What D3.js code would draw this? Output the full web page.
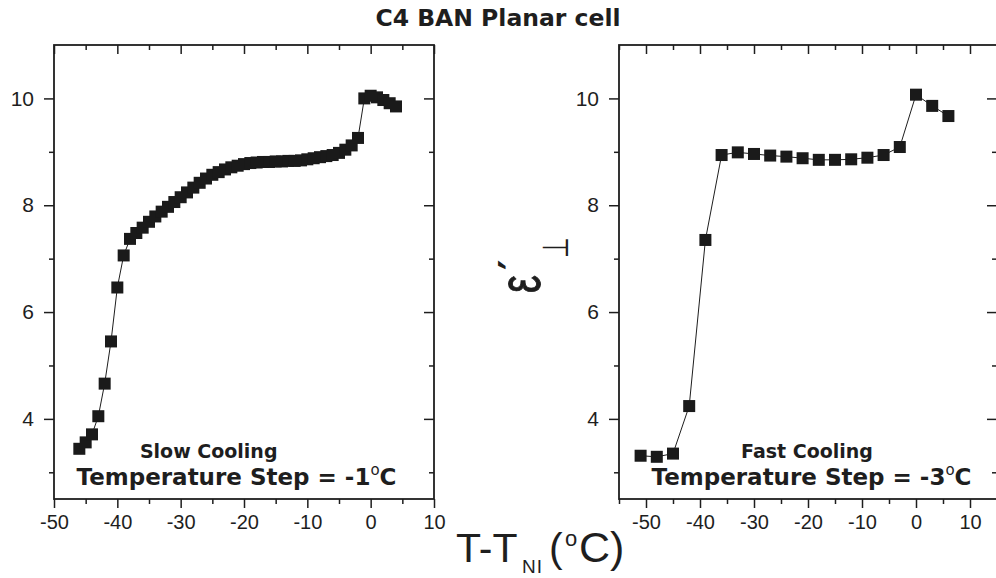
<!DOCTYPE html>
<html><head><meta charset="utf-8">
<script src="https://cdn.jsdelivr.net/npm/d3@7"></script>
<style>body{margin:0;background:#fff}svg{display:block}</style>
</head><body>
<svg id="c" width="996" height="578"></svg>
<script>
// ---------- data ----------
const slowT = [-46,-45,-44,-43,-42,-41,-40,-39,-38,-37,-36,-35,-34,-33,-32,-31,-30,-29,-28,-27,-26,-25,-24,-23,-22,-21,-20,-19,-18,-17,-16,-15,-14,-13,-12,-11,-10,-9,-8,-7,-6,-5,-4,-3,-2,-1,0,1,2,3,4];
const slowEps = [3.44,3.56,3.71,4.05,4.66,5.45,6.46,7.06,7.37,7.48,7.58,7.69,7.79,7.88,7.97,8.06,8.15,8.24,8.33,8.42,8.50,8.57,8.62,8.67,8.71,8.74,8.77,8.79,8.80,8.81,8.81,8.82,8.82,8.83,8.83,8.84,8.86,8.88,8.90,8.92,8.94,8.98,9.04,9.12,9.26,10.00,10.05,10.02,9.97,9.91,9.85];
const fastT = [-51,-48,-45,-42,-39,-36,-33,-30,-27,-24,-21,-18,-15,-12,-9,-6,-3,0,3,6];
const fastEps = [3.31,3.29,3.35,4.24,7.35,8.94,8.99,8.96,8.93,8.91,8.88,8.85,8.85,8.86,8.89,8.94,9.09,10.07,9.86,9.67];
const xMajorTicks = [-50,-40,-30,-20,-10,0,10];
const xMinorTicks = [-55,-45,-35,-25,-15,-5,5];
const yMajorTicks = [4,6,8,10];
const yMinorTicks = [3,5,7,9];
const titleText = "C4 BAN Planar cell";
const panelLabels = [
  {name:"Slow Cooling", step:"-1"},
  {name:"Fast Cooling", step:"-3"}
];

// ---------- drawing ----------
const svg = d3.select("#c");
const FONT = "'Liberation Sans', Arial, sans-serif";
const BOLD = "'DejaVu Sans', sans-serif";
const INK = "#1e1e1e";
const fmt = d => String(d);

const yDomain = [2.5, 11];
const yTop = 45, yBot = 499;

const panels = [
  {x0:54, x1:434, dom:[-50,10], T:slowT, E:slowEps, lab:panelLabels[0], nameX:208.7, stepX:236.5},
  {x0:619, x1:997, dom:[-55,15], T:fastT, E:fastEps, lab:panelLabels[1], nameX:807, stepX:811.5}
];

panels.forEach(p => {
  const x = d3.scaleLinear().domain(p.dom).range([p.x0, p.x1]);
  const y = d3.scaleLinear().domain(yDomain).range([yBot, yTop]);
  const g = svg.append("g");
  const inX = v => v >= p.dom[0] && v <= p.dom[1];

  const styleAxis = (sel) => {
    sel.select(".domain").remove();
    sel.selectAll("line").attr("stroke", INK).attr("stroke-width", 1.5);
    sel.selectAll("text").attr("font-family", FONT).attr("fill", INK);
  };
  g.append("g").attr("transform",`translate(0,${yBot})`)
    .call(d3.axisBottom(x).tickValues(xMajorTicks.filter(inX)).tickSize(9).tickPadding(7).tickFormat(fmt))
    .call(styleAxis).selectAll("text").attr("font-size", 20);
  g.append("g").attr("transform",`translate(0,${yBot})`)
    .call(d3.axisBottom(x).tickValues(xMinorTicks.filter(inX)).tickSize(5).tickFormat(""))
    .call(styleAxis);
  g.append("g").attr("transform",`translate(0,${yTop})`)
    .call(d3.axisTop(x).tickValues(xMajorTicks.filter(inX)).tickSize(-9).tickFormat(""))
    .call(styleAxis);
  g.append("g").attr("transform",`translate(0,${yTop})`)
    .call(d3.axisTop(x).tickValues(xMinorTicks.filter(inX)).tickSize(-5).tickFormat(""))
    .call(styleAxis);
  g.append("g").attr("transform",`translate(${p.x0},0)`)
    .call(d3.axisLeft(y).tickValues(yMajorTicks).tickSize(10).tickPadding(10).tickFormat(fmt))
    .call(styleAxis).selectAll("text").attr("font-size", 21);
  g.append("g").attr("transform",`translate(${p.x0},0)`)
    .call(d3.axisLeft(y).tickValues(yMinorTicks).tickSize(5).tickFormat(""))
    .call(styleAxis);
  g.append("g").attr("transform",`translate(${p.x1},0)`)
    .call(d3.axisRight(y).tickValues(yMajorTicks).tickSize(-10).tickFormat(""))
    .call(styleAxis);
  g.append("g").attr("transform",`translate(${p.x1},0)`)
    .call(d3.axisRight(y).tickValues(yMinorTicks).tickSize(-5).tickFormat(""))
    .call(styleAxis);

  g.append("rect").attr("x", p.x0).attr("y", yTop)
    .attr("width", p.x1 - p.x0).attr("height", yBot - yTop)
    .attr("fill", "none").attr("stroke", INK).attr("stroke-width", 1.8);

  const pts = p.T.map((t,i) => ({t, e:p.E[i]}));
  g.append("path").datum(pts)
    .attr("d", d3.line().x(d => x(d.t)).y(d => y(d.e)))
    .attr("fill","none").attr("stroke", INK).attr("stroke-width", 1);
  const s = 12;
  g.selectAll("rect.pt").data(pts).join("rect").attr("class","pt")
    .attr("x", d => x(d.t) - s/2).attr("y", d => y(d.e) - s/2)
    .attr("width", s).attr("height", s).attr("fill", "#1a1a1a");

  g.append("text").attr("x", p.nameX).attr("y", 458).attr("text-anchor","middle")
    .attr("font-family", BOLD).attr("font-weight","bold").attr("font-size", 19).attr("fill", INK)
    .text(p.lab.name);
  const st = g.append("text").attr("x", p.stepX).attr("y", 485).attr("text-anchor","middle")
    .attr("font-family", BOLD).attr("font-weight","bold").attr("font-size", 23).attr("fill", INK);
  st.append("tspan").text(`Temperature Step = ${p.lab.step}`);
  st.append("tspan").attr("dy", -10).attr("font-size", 15).attr("font-weight","normal").text("o");
  st.append("tspan").attr("dy", 10).text("C");
});

svg.append("text").attr("x", 498).attr("y", 26).attr("text-anchor","middle")
  .attr("font-family", BOLD).attr("font-weight","bold").attr("font-size", 23.5).attr("fill", INK)
  .text(titleText);

// x axis title
const xt = svg.append("text").attr("y", 562)
  .attr("font-family", FONT).attr("font-size", 41).attr("fill", INK);
xt.append("tspan").attr("x", 456).text("T-T");
xt.append("tspan").attr("x", 522).attr("y", 573).attr("font-size", 19).attr("letter-spacing", 1).text("NI");
xt.append("tspan").attr("x", 549).attr("y", 562).text("(");
xt.append("tspan").attr("x", 565).attr("y", 546).attr("font-size", 22).text("o");
xt.append("tspan").attr("x", 579).attr("y", 562).attr("font-size", 43).text("C)");

// y axis title: epsilon prime, perpendicular (rotated)
svg.append("text").attr("transform", "translate(540,293) rotate(-90) scale(1,1.5)")
  .attr("font-family", FONT).attr("font-size", 40).attr("fill", INK)
  .attr("stroke", INK).attr("stroke-width", 0.6).text("ε");
svg.append("text").attr("transform", "translate(528,270) rotate(-90)")
  .attr("font-family", BOLD).attr("font-weight","bold").attr("font-size", 40).attr("fill", INK).text("′");
svg.append("text").attr("transform", "translate(568,258) rotate(-90) scale(1,1.5)")
  .attr("font-family", BOLD).attr("font-size", 24).attr("fill", INK).text("⊥");
</script>
</body></html>
